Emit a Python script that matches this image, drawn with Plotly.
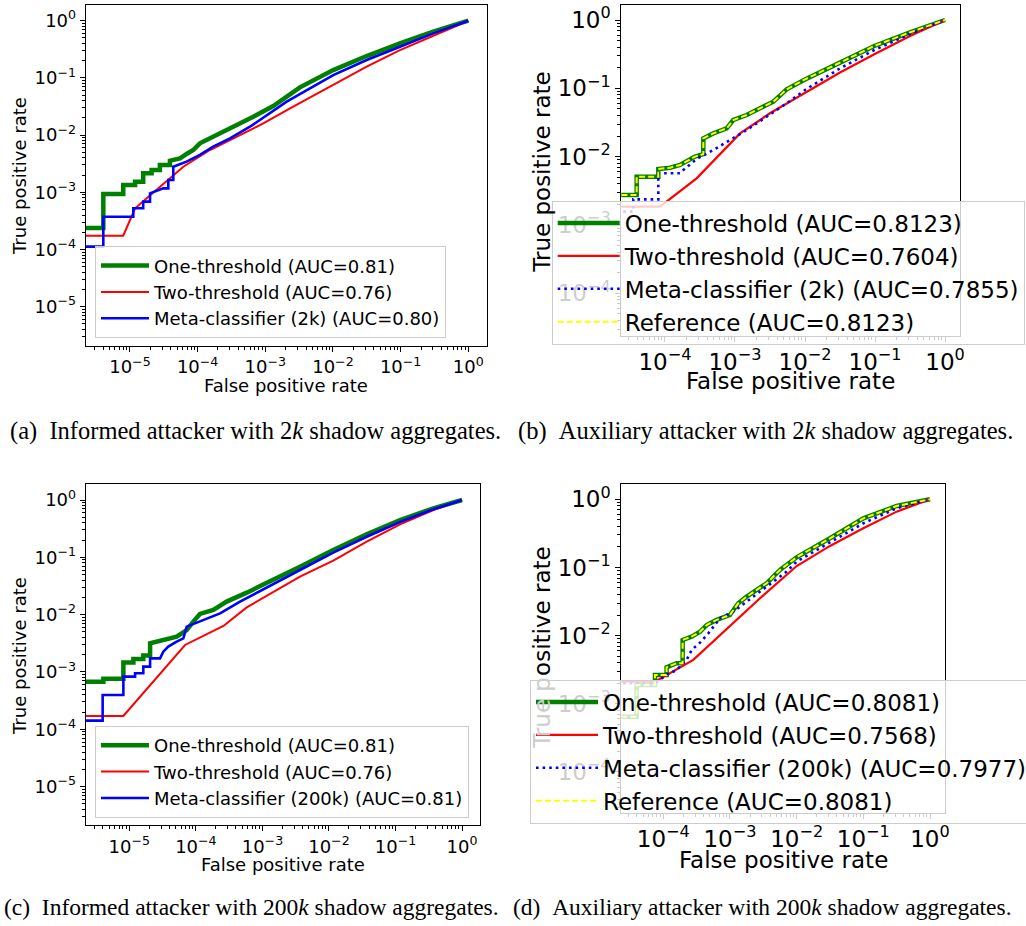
import plotly.graph_objects as go

W, H = 1026, 926

# ---------------- data ----------------
# (a) Informed attacker, 2k shadow aggregates
a_one_fpr = [1.16e-6, 4.04e-6, 4.04e-6, 7.96e-6, 7.96e-6, 1.19e-5, 1.19e-5, 1.57e-5, 1.57e-5, 2.09e-5,
             2.09e-5, 2.77e-5, 2.77e-5, 3.90e-5, 3.90e-5, 5.48e-5, 6.87e-5, 8.62e-5, 1.08e-4, 1.70e-4,
             2.69e-4, 4.23e-4, 6.65e-4, 1.31e-3, 3.25e-3, 1.01e-2, 3.15e-2, 9.77e-2, 0.304, 1.0]
a_one_tpr = [2.37e-4, 2.37e-4, 9.33e-4, 9.33e-4, 1.34e-3, 1.34e-3, 1.53e-3, 1.53e-3, 2.14e-3, 2.14e-3,
             2.45e-3, 2.45e-3, 3.00e-3, 3.00e-3, 3.57e-3, 3.92e-3, 4.67e-3, 5.48e-3, 7.17e-3, 9.37e-3,
             1.23e-2, 1.56e-2, 2.10e-2, 3.22e-2, 6.83e-2, 0.137, 0.241, 0.402, 0.643, 1.0]
a_two_fpr = [1.16e-6, 7.96e-6, 1.19e-5, 2.48e-5, 6.14e-5, 1.52e-4, 3.77e-4, 9.33e-4, 2.32e-3, 1.01e-2,
             3.15e-2, 9.77e-2, 0.304, 1.0]
a_two_tpr = [1.74e-4, 1.74e-4, 5.24e-4, 1.10e-3, 2.80e-3, 5.48e-3, 9.37e-3, 1.60e-2, 2.93e-2, 7.50e-2,
             0.157, 0.307, 0.540, 1.0]
a_meta_fpr = [1.16e-6, 4.04e-6, 4.04e-6, 1.12e-5, 1.12e-5, 1.57e-5, 1.57e-5, 1.98e-5, 1.98e-5, 3.11e-5,
              3.69e-5, 3.69e-5, 4.37e-5, 4.37e-5, 6.87e-5, 1.08e-4, 1.70e-4, 3.01e-4, 5.93e-4, 1.05e-3,
              2.07e-3, 1.01e-2, 3.15e-2, 9.77e-2, 0.304, 1.0]
a_meta_tpr = [1.12e-4, 1.12e-4, 3.74e-4, 3.74e-4, 5.24e-4, 5.24e-4, 6.85e-4, 6.85e-4, 9.58e-4, 1.17e-3,
              1.17e-3, 1.64e-3, 1.64e-3, 2.80e-3, 3.43e-3, 4.49e-3, 6.27e-3, 8.77e-3, 1.40e-2, 2.24e-2,
              3.84e-2, 0.112, 0.205, 0.351, 0.601, 1.0]

# (b) Auxiliary attacker, 2k shadow aggregates
b_one_fpr = [1.32e-5, 3.94e-5, 3.94e-5, 8.03e-5, 8.03e-5, 1.18e-4, 1.64e-4, 2.04e-4, 2.68e-4, 3.53e-4,
             3.53e-4, 4.90e-4, 7.60e-4, 9.46e-4, 1.47e-3, 2.28e-3, 3.53e-3, 5.47e-3, 1.0e-2, 3.16e-2,
             9.78e-2, 0.316, 1.0]
b_one_tpr = [2.75e-3, 2.75e-3, 5.09e-3, 5.09e-3, 6.60e-3, 6.90e-3, 7.55e-3, 8.45e-3, 1.00e-2, 1.09e-2,
             1.85e-2, 2.19e-2, 2.60e-2, 3.44e-2, 4.07e-2, 5.10e-2, 6.38e-2, 9.67e-2, 0.135, 0.238,
             0.417, 0.660, 1.0]
b_two_fpr = [1.32e-5, 8.48e-5, 2.83e-4, 1.18e-3, 3.16e-3, 1.0e-2, 3.16e-2, 9.78e-2, 0.316, 1.0]
b_two_tpr = [1.85e-3, 1.85e-3, 4.82e-3, 2.19e-2, 4.31e-2, 8.45e-2, 0.170, 0.315, 0.583, 1.0]
b_meta_fpr = [1.32e-5, 3.53e-5, 3.53e-5, 8.03e-5, 8.03e-5, 1.64e-4, 1.83e-4, 2.83e-4, 4.90e-4, 8.48e-4,
              1.47e-3, 2.83e-3, 5.47e-3, 1.0e-2, 3.16e-2, 9.78e-2, 0.316, 1.0]
b_meta_tpr = [1.57e-3, 1.57e-3, 2.37e-3, 2.37e-3, 5.71e-3, 5.71e-3, 6.38e-3, 9.24e-3, 1.25e-2, 1.75e-2,
              2.45e-2, 3.85e-2, 6.03e-2, 9.46e-2, 0.196, 0.364, 0.624, 1.0]
b_ref_fpr = list(b_one_fpr)   # reference curve coincides with one-threshold
b_ref_tpr = list(b_one_tpr)

# (c) Informed attacker, 200k shadow aggregates
c_one_fpr = [1.14e-6, 4.07e-6, 4.07e-6, 8.13e-6, 8.13e-6, 1.15e-5, 1.15e-5, 1.62e-5, 1.62e-5, 2.05e-5,
             2.05e-5, 2.89e-5, 5.14e-5, 6.12e-5, 7.28e-5, 9.16e-5, 1.15e-4, 1.83e-4, 2.90e-4, 5.81e-4,
             1.16e-3, 3.67e-3, 1.16e-2, 3.69e-2, 0.117, 0.371, 1.0]
c_one_tpr = [6.78e-4, 6.78e-4, 7.66e-4, 7.66e-4, 1.47e-3, 1.47e-3, 1.69e-3, 1.69e-3, 1.93e-3, 1.93e-3,
             3.16e-3, 3.52e-3, 4.13e-3, 4.73e-3, 5.40e-3, 7.55e-3, 1.03e-2, 1.21e-2, 1.69e-2, 2.42e-2,
             3.52e-2, 6.87e-2, 0.134, 0.252, 0.448, 0.716, 1.0]
c_two_fpr = [1.14e-6, 8.13e-6, 6.87e-5, 2.59e-4, 5.81e-4, 1.84e-3, 3.67e-3, 1.16e-2, 3.69e-2, 0.117,
             0.371, 1.0]
c_two_tpr = [1.71e-4, 1.71e-4, 2.96e-3, 6.34e-3, 1.34e-2, 2.88e-2, 4.60e-2, 8.75e-2, 0.188, 0.377,
             0.669, 1.0]
c_meta_fpr = [1.14e-6, 3.97e-6, 3.97e-6, 8.13e-6, 8.13e-6, 1.22e-5, 1.22e-5, 1.62e-5, 1.62e-5, 2.05e-5,
              2.05e-5, 2.89e-5, 3.24e-5, 3.85e-5, 5.14e-5, 6.48e-5, 7.28e-5, 1.15e-4, 2.31e-4, 4.61e-4,
              1.16e-3, 3.67e-3, 1.16e-2, 3.69e-2, 0.117, 0.371, 1.0]
c_meta_tpr = [1.42e-4, 1.42e-4, 3.97e-4, 3.97e-4, 8.30e-4, 8.30e-4, 9.48e-4, 9.48e-4, 1.24e-3, 1.24e-3,
              1.73e-3, 1.73e-3, 2.26e-3, 2.77e-3, 3.38e-3, 3.86e-3, 6.18e-3, 7.55e-3, 1.05e-2, 1.69e-2,
              3.00e-2, 6.01e-2, 0.121, 0.229, 0.413, 0.687, 1.0]

# (d) Auxiliary attacker, 200k shadow aggregates
d_one_fpr = [1.26e-5, 3.98e-5, 3.98e-5, 7.50e-5, 7.50e-5, 1.12e-4, 1.12e-4, 1.58e-4, 1.95e-4, 1.95e-4,
             2.66e-4, 3.55e-4, 4.47e-4, 6.31e-4, 1.0e-3, 1.33e-3, 1.78e-3, 2.51e-3, 3.55e-3, 5.62e-3,
             1.0e-2, 3.16e-2, 0.1, 0.316, 1.0]
d_one_tpr = [6.48e-4, 6.48e-4, 1.89e-3, 1.89e-3, 2.65e-3, 2.65e-3, 3.43e-3, 3.93e-3, 3.93e-3, 8.64e-3,
             9.66e-3, 1.14e-2, 1.43e-2, 1.70e-2, 2.01e-2, 2.98e-2, 3.73e-2, 4.68e-2, 5.86e-2, 9.19e-2,
             0.141, 0.268, 0.526, 0.798, 1.0]
d_two_fpr = [1.26e-5, 7.50e-5, 2.82e-4, 2.82e-3, 1.0e-2, 3.16e-2, 0.1, 0.316, 1.0]
d_two_tpr = [2.11e-3, 2.11e-3, 4.40e-3, 3.53e-2, 0.105, 0.207, 0.376, 0.659, 1.0]
d_meta_fpr = [1.26e-5, 7.50e-5, 1.12e-4, 1.58e-4, 2.24e-4, 2.66e-4, 3.55e-4, 4.73e-4, 7.08e-4, 1.12e-3,
              1.78e-3, 3.55e-3, 7.08e-3, 1.0e-2, 3.16e-2, 0.1, 0.316, 1.0]
d_meta_tpr = [2.00e-3, 2.00e-3, 2.65e-3, 3.13e-3, 4.40e-3, 6.17e-3, 7.89e-3, 1.08e-2, 1.80e-2, 2.25e-2,
              3.15e-2, 5.24e-2, 8.69e-2, 0.122, 0.231, 0.445, 0.738, 1.0]
d_ref_fpr = list(d_one_fpr)
d_ref_tpr = list(d_one_tpr)

a_names = ["One-threshold (AUC=0.81)", "Two-threshold (AUC=0.76)", "Meta-classifier (2k) (AUC=0.80)"]
b_names = ["One-threshold (AUC=0.8123)", "Two-threshold (AUC=0.7604)",
           "Meta-classifier (2k) (AUC=0.7855)", "Reference (AUC=0.8123)"]
c_names = ["One-threshold (AUC=0.81)", "Two-threshold (AUC=0.76)", "Meta-classifier (200k) (AUC=0.81)"]
d_names = ["One-threshold (AUC=0.8081)", "Two-threshold (AUC=0.7568)",
           "Meta-classifier (200k) (AUC=0.7977)", "Reference (AUC=0.8081)"]

captions = [
    "(a)\u2002Informed attacker with 2<i>k</i> shadow aggregates.",
    "(b)\u2002Auxiliary attacker with 2<i>k</i> shadow aggregates.",
    "(c)\u2002Informed attacker with 200<i>k</i> shadow aggregates.",
    "(d)\u2002Auxiliary attacker with 200<i>k</i> shadow aggregates.",
]
x_title = "False positive rate"
y_title = "True positive rate"

# ---------------- styling helpers ----------------
FONT = "DejaVu Sans"
GREEN, RED, BLUE, YELLOW = "#008000", "#ff0000", "#0000ff", "#ffff00"


def fx(p):
    return p / W


def fy(p):
    return 1 - p / H


def pow_label(e):
    return "10<sup>" + (str(e) if e >= 0 else "\u2212" + str(-e)) + "</sup>"


minor_vals = [m * 10.0 ** k for k in range(-7, 1) for m in range(2, 10)]


def log_axis(domain, rng, exps, fs, anchor):
    return dict(
        domain=domain, type="log", range=rng, anchor=anchor,
        tickmode="array", tickvals=[10.0 ** e for e in exps], ticktext=[pow_label(e) for e in exps],
        ticks="outside", ticklen=5, tickwidth=1, tickcolor="black",
        showline=True, linecolor="black", linewidth=1, mirror=True,
        showgrid=False, zeroline=False,
        tickfont=dict(family=FONT, size=fs, color="black"),
        minor=dict(tickmode="array", tickvals=minor_vals, ticks="outside", ticklen=3,
                   tickwidth=0.8, tickcolor="black", showgrid=False),
    )


fig = go.Figure()


def add(x, y, name, color, width, ax, leg, dash="solid"):
    fig.add_trace(go.Scatter(
        x=x, y=y, name=name, mode="lines",
        line=dict(color=color, width=width, dash=dash),
        xaxis="x" + ax, yaxis="y" + ax, legend=leg, hoverinfo="skip",
    ))


# (a)
add(a_one_fpr, a_one_tpr, a_names[0], GREEN, 4.5, "", "legend")
add(a_two_fpr, a_two_tpr, a_names[1], RED, 2, "", "legend")
add(a_meta_fpr, a_meta_tpr, a_names[2], BLUE, 2.6, "", "legend")
# (b)
add(b_one_fpr, b_one_tpr, b_names[0], GREEN, 4.5, "2", "legend2")
add(b_two_fpr, b_two_tpr, b_names[1], RED, 2.2, "2", "legend2")
add(b_meta_fpr, b_meta_tpr, b_names[2], BLUE, 2.6, "2", "legend2", dash="2.6px,4px")
add(b_ref_fpr, b_ref_tpr, b_names[3], YELLOW, 2, "2", "legend2", dash="6px,3px")
# (c)
add(c_one_fpr, c_one_tpr, c_names[0], GREEN, 4.5, "3", "legend3")
add(c_two_fpr, c_two_tpr, c_names[1], RED, 2, "3", "legend3")
add(c_meta_fpr, c_meta_tpr, c_names[2], BLUE, 2.6, "3", "legend3")
# (d)
add(d_one_fpr, d_one_tpr, d_names[0], GREEN, 4.5, "4", "legend4")
add(d_two_fpr, d_two_tpr, d_names[1], RED, 2.2, "4", "legend4")
add(d_meta_fpr, d_meta_tpr, d_names[2], BLUE, 2.6, "4", "legend4", dash="2.6px,4px")
add(d_ref_fpr, d_ref_tpr, d_names[3], YELLOW, 2, "4", "legend4", dash="6px,3px")


def legend(xp, yp, fs, iw):
    return dict(x=fx(xp), y=fy(yp), xanchor="left", yanchor="top",
                bgcolor="rgba(255,255,255,0.8)", bordercolor="#cccccc", borderwidth=1,
                font=dict(family=FONT, size=fs, color="black"),
                itemwidth=iw, tracegroupgap=0, traceorder="normal")


SMALL, BIG = 18, 23

annotations = []


def text(xp, yp, s, fs, angle=0, family=FONT, color="black"):
    annotations.append(dict(x=fx(xp), y=fy(yp), xref="paper", yref="paper", text=s,
                            showarrow=False, textangle=angle, xanchor="center", yanchor="middle",
                            font=dict(family=family, size=fs, color=color)))


# axis titles
text(19, 176, y_title, SMALL, -90)
text(285.5, 385, x_title, SMALL)
text(541.7, 172, y_title, BIG, -90)
text(790.8, 381, x_title, BIG)
text(19, 656, y_title, SMALL, -90)
text(283, 864, x_title, SMALL)
# (d) y title partially hidden behind the legend
text(541.7, 713.1, "True p", BIG, -90, color="#cccccc")
text(541.7, 611.2, "ositive rate", BIG, -90)
text(783.5, 860, x_title, BIG)

# captions
CAP = "Liberation Serif"
text(255.8, 431.5, captions[0], 24.5, family=CAP)
text(765.8, 431.5, captions[1], 24.5, family=CAP)
text(251.5, 906.5, captions[2], 23.5, family=CAP)
text(762.5, 906.5, captions[3], 23.5, family=CAP)

fig.update_layout(
    width=W, height=H,
    margin=dict(l=0, r=0, t=0, b=0, autoexpand=False),
    paper_bgcolor="white", plot_bgcolor="white",
    showlegend=True,
    xaxis=log_axis([fx(85.7), fx(486.7)], [-5.654, 0.272], range(-5, 1), SMALL, "y"),
    yaxis=log_axis([fy(345.7), fy(4.7)], [-5.683, 0.28], range(-5, 1), SMALL, "x"),
    xaxis2=log_axis([fx(621.3), fx(960)], [-4.624, 0.214], range(-4, 1), BIG, "y2"),
    yaxis2=log_axis([fy(336), fy(4.7)], [-4.625, 0.224], range(-4, 1), BIG, "x2"),
    xaxis3=log_axis([fx(85.7), fx(480)], [-5.656, 0.27], range(-5, 1), SMALL, "y3"),
    yaxis3=log_axis([fy(825), fy(484.3)], [-5.669, 0.274], range(-5, 1), SMALL, "x3"),
    xaxis4=log_axis([fx(621.3), fx(945)], [-4.63, 0.225], range(-4, 1), BIG, "y4"),
    yaxis4=log_axis([fy(813.4), fy(484.3)], [-4.608, 0.22], range(-4, 1), BIG, "x4"),
    legend=legend(95, 246.3, SMALL, 48),
    legend2=legend(551.7, 200.5, BIG, 62),
    legend3=legend(95, 726, SMALL, 48),
    legend4=legend(530, 679.5, BIG, 62),
    annotations=annotations,
)

fig.write_html("out.html")
